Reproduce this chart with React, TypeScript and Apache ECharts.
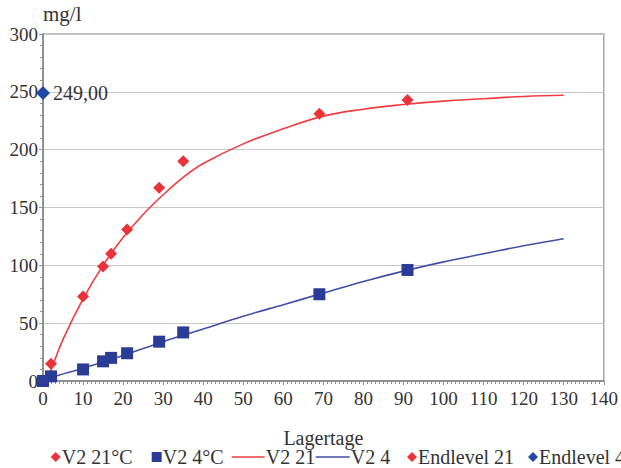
import React, { useEffect, useRef } from "react";
import * as echarts from "echarts";

const FONT = "'Liberation Serif', 'DejaVu Serif', serif";

// Measured points
const v2_21_days = [2, 10, 15, 17, 21, 29, 35, 69, 91];
const v2_21_vals = [15, 73, 99, 110, 131, 167, 190, 231, 243];

const v2_4_days = [0, 2, 10, 15, 17, 21, 29, 35, 69, 91];
const v2_4_vals = [0, 4, 10, 17, 20, 24, 34, 42, 75, 96];

// Trend lines
const trend21_days = [1, 2.5, 5, 10, 15, 20, 25, 30, 35, 40, 50, 60, 70, 80, 90, 100, 110, 120, 130];
const trend21_vals = [0, 14, 36, 71, 100, 124, 144, 161, 176, 188, 205, 218, 229, 235, 239, 242, 244, 246, 247];

const trend4_days = [0, 2, 10, 20, 30, 40, 50, 60, 70, 80, 90, 100, 110, 120, 130];
const trend4_vals = [0, 3, 11, 22, 34, 45, 56, 66, 76, 86, 95, 103, 110, 117, 123];

// End levels
const endlevel21: [number, number][] = [];
const endlevel4: [number, number][] = [[0, 249]];

const xTicks = { min: 0, max: 140, interval: 10 };
const yTicks = { min: 0, max: 300, interval: 50 };

const zip = (xs: number[], ys: number[]) => xs.map((x, i) => [x, ys[i]]);

const RED_LINE = "#f03c40";
const BLUE_LINE = "#4050a8";

export default function App() {
  const ref = useRef<HTMLDivElement>(null);
  useEffect(() => {
    if (!ref.current) return;
    const chart = echarts.init(ref.current, undefined, { renderer: "svg" });
    const textColor = "#333";
    const axisGray = "#909090";
    const legendBase = {
      top: 442,
      itemGap: 0,
      textStyle: { fontFamily: FONT, fontSize: 20, color: textColor, padding: [0, 0, 0, -4] },
    };
    const lineIcon = "path://M0,0h66v3h-66z";
    chart.setOption({
      animation: false,
      textStyle: { fontFamily: FONT },
      grid: {
        left: 43,
        top: 34,
        right: 8,
        bottom: 87,
        show: true,
        borderColor: "#a4a6a8",
        borderWidth: 1.5,
      },
      legend: [
        { ...legendBase, left: 45.7, itemWidth: 10, itemHeight: 10, data: [{ name: "V2 21°C", icon: "diamond" }] },
        { ...legendBase, left: 146.7, itemWidth: 10, itemHeight: 10, data: [{ name: "V2 4°C", icon: "rect" }] },
        {
          ...legendBase,
          left: 226.7,
          itemWidth: 33,
          itemHeight: 10,
          data: [{ name: "V2 21", icon: lineIcon, itemStyle: { color: RED_LINE } }],
        },
        {
          ...legendBase,
          left: 310.7,
          itemWidth: 34,
          itemHeight: 10,
          data: [{ name: "V2 4", icon: lineIcon, itemStyle: { color: BLUE_LINE } }],
        },
        { ...legendBase, left: 402, itemWidth: 10, itemHeight: 10, data: [{ name: "Endlevel 21", icon: "diamond" }] },
        { ...legendBase, left: 523, itemWidth: 10, itemHeight: 10, data: [{ name: "Endlevel 4", icon: "diamond" }] },
      ],
      xAxis: {
        type: "value",
        ...xTicks,
        name: "Lagertage",
        nameLocation: "middle",
        nameGap: 47,
        nameTextStyle: { fontFamily: FONT, fontSize: 20, color: textColor },
        axisLine: { show: true, lineStyle: { color: axisGray, width: 2 } },
        axisTick: { show: true, length: 4, lineStyle: { color: axisGray } },
        minorTick: { show: true, splitNumber: 10, length: 3, lineStyle: { color: axisGray } },
        axisLabel: { fontFamily: FONT, fontSize: 19, color: textColor, margin: 8, showMaxLabel: true },
        splitLine: { show: false },
      },
      yAxis: {
        type: "value",
        ...yTicks,
        name: "mg/l",
        nameLocation: "end",
        nameGap: 4,
        nameTextStyle: {
          fontFamily: FONT,
          fontSize: 21,
          color: textColor,
          align: "left",
          verticalAlign: "bottom",
        },
        axisLine: { show: true, lineStyle: { color: axisGray, width: 2 } },
        axisTick: { show: true, length: 4, lineStyle: { color: axisGray } },
        minorTick: { show: true, splitNumber: 5, length: 3, lineStyle: { color: axisGray } },
        axisLabel: { fontFamily: FONT, fontSize: 19, color: textColor, margin: 5 },
        splitLine: { show: true, lineStyle: { color: "#c8c8c8", width: 1 } },
      },
      series: [
        {
          name: "V2 21",
          type: "line",
          smooth: 0.4,
          symbol: "none",
          data: zip(trend21_days, trend21_vals),
          lineStyle: { color: RED_LINE, width: 1.6 },
          itemStyle: { color: RED_LINE },
          z: 2,
        },
        {
          name: "V2 4",
          type: "line",
          smooth: 0.4,
          symbol: "none",
          data: zip(trend4_days, trend4_vals),
          lineStyle: { color: BLUE_LINE, width: 1.6 },
          itemStyle: { color: BLUE_LINE },
          z: 2,
        },
        {
          name: "V2 21°C",
          type: "scatter",
          symbol: "diamond",
          symbolSize: 12,
          clip: false,
          data: zip(v2_21_days, v2_21_vals),
          itemStyle: { color: "#ea3338", opacity: 1 },
          z: 3,
        },
        {
          name: "V2 4°C",
          type: "scatter",
          symbol: "rect",
          symbolSize: 12,
          clip: false,
          data: zip(v2_4_days, v2_4_vals),
          itemStyle: { color: "#2a3c96", opacity: 1 },
          z: 3,
        },
        {
          name: "Endlevel 21",
          type: "scatter",
          symbol: "diamond",
          symbolSize: 14,
          clip: false,
          data: endlevel21,
          itemStyle: { color: "#ea3338", opacity: 1 },
          z: 4,
        },
        {
          name: "Endlevel 4",
          type: "scatter",
          symbol: "diamond",
          symbolSize: 14,
          clip: false,
          data: endlevel4,
          itemStyle: { color: "#1e4aa6", opacity: 1 },
          label: {
            show: true,
            position: "right",
            distance: 3,
            fontFamily: FONT,
            fontSize: 20,
            color: textColor,
            formatter: (p: any) => p.value[1].toFixed(2).replace(".", ","),
          },
          z: 5,
        },
      ],
    });
    return () => chart.dispose();
  }, []);
  return (
    <div
      ref={ref}
      style={{ position: "absolute", left: 0, top: 0, width: 621, height: 468 }}
    />
  );
}
